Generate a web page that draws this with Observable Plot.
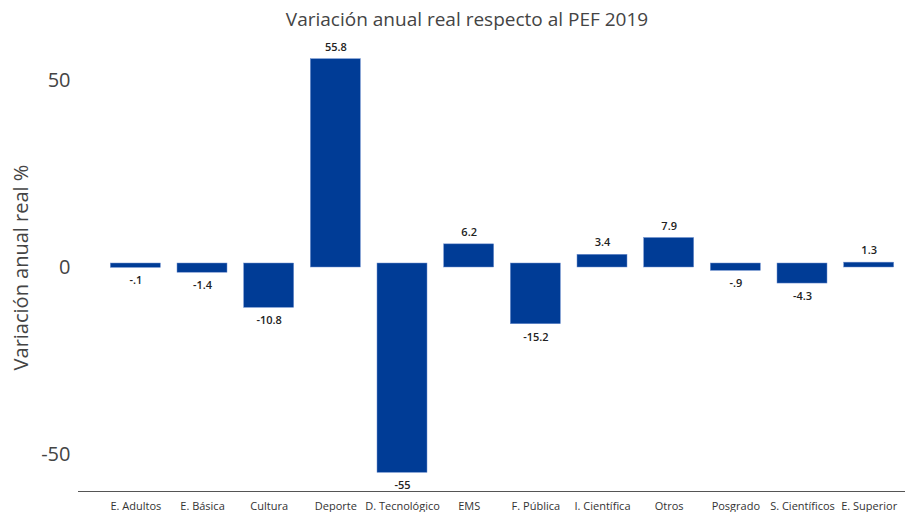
<!DOCTYPE html>
<html>
<head>
<meta charset="utf-8">
<script src="https://cdn.jsdelivr.net/npm/d3@7"></script>
<script src="https://cdn.jsdelivr.net/npm/@observablehq/plot@0.6"></script>
<style>
  html, body { margin: 0; padding: 0; background: #fff; }
  #wrap { position: relative; width: 911px; height: 512px; overflow: hidden; }
  #title { position: absolute; top: 6px; left: 0; width: 934px; text-align: center;
           font-family: "Open Sans", sans-serif; font-size: 19px; color: #444; }
</style>
</head>
<body>
<div id="wrap">
  <div id="title">Variación anual real respecto al PEF 2019</div>
</div>
<script>
const categories = ["E. Adultos", "E. Básica", "Cultura", "Deporte", "D. Tecnológico", "EMS",
  "F. Pública", "I. Científica", "Otros", "Posgrado", "S. Científicos", "E. Superior"];
const values = [-0.1, -1.4, -10.8, 55.8, -55, 6.2, -15.2, 3.4, 7.9, -0.9, -4.3, 1.3];
const yTicks = [-50, 0, 50];

const data = categories.map((c, i) => ({ cat: c, v: values[i] }));
const fmt = v => String(v).replace(/^(-?)0\./, "$1.");
const pos = data.filter(d => d.v >= 0);
const neg = data.filter(d => d.v < 0);
const barColor = "#003c96";

const chart = Plot.plot({
  width: 911,
  height: 512,
  marginLeft: 102,
  marginRight: 9,
  marginTop: 43,
  marginBottom: 21,
  style: { fontFamily: "Open Sans, sans-serif", color: "#333", background: "#fff" },
  x: { domain: categories, paddingInner: 0.25, paddingOuter: 0.125, round: false, label: null },
  y: { domain: [-60, 60], label: null },
  marks: [
    Plot.axisY({ ticks: yTicks, tickFormat: d => String(d), tickSize: 0, tickPadding: 32, fontSize: 20, color: "#444",
      label: "Variación anual real %", labelAnchor: "center", labelArrow: "none", labelOffset: 89 }),
    Plot.axisX({ tickSize: 0, tickPadding: 11, fontSize: 11, color: "#333" }),
    Plot.ruleY([-60], { stroke: "#555", strokeWidth: 1, insetLeft: -24, insetRight: -3 }),
    Plot.barY(pos, { x: "cat", y: "v", fill: barColor, stroke: "#6f8fcf", strokeWidth: 0.5 }),
    Plot.barY(neg, { x: "cat", y: "v", fill: barColor, stroke: "#6f8fcf", strokeWidth: 0.5, insetTop: -4 }),
    Plot.text(pos, { x: "cat", y: "v", text: d => fmt(d.v), dy: -12, fontSize: 11, fontWeight: 600, fill: "#222" }),
    Plot.text(neg, { x: "cat", y: "v", text: d => fmt(d.v), dy: 13, fontSize: 11, fontWeight: 600, fill: "#222" })
  ]
});
document.getElementById("wrap").prepend(chart);
</script>
</body>
</html>
